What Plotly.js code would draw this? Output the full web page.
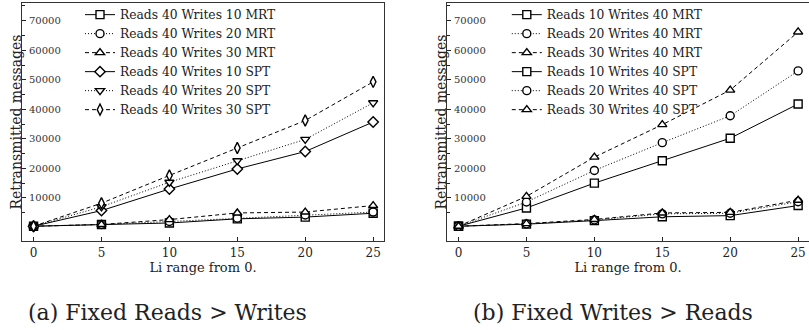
<!DOCTYPE html>
<html>
<head>
<meta charset="utf-8">
<script src="https://cdn.plot.ly/plotly-3.0.1.min.js"></script>
<style>html,body{margin:0;padding:0;background:#fff;}#chart{width:809px;height:330px;}</style>
</head>
<body>
<div id="chart"></div>
<script>
// Li range values (x axis)
const liRange = [0, 5, 10, 15, 20, 25];

// (a) Fixed Reads > Writes
const r40w10MRT = [400, 1000, 1500, 2900, 3500, 4800];
const r40w20MRT = [400, 1000, 2000, 3100, 4200, 5200];
const r40w30MRT = [400, 1000, 2650, 4900, 5200, 7400];
const r40w10SPT = [400, 5700, 13000, 19800, 25700, 35700];
const r40w20SPT = [400, 7000, 15300, 22600, 29800, 42200];
const r40w30SPT = [400, 8200, 17600, 26900, 36200, 49300];

// (b) Fixed Writes > Reads
const r10w40MRT = [400, 1100, 2300, 3600, 4000, 7400];
const r20w40MRT = [400, 1200, 2500, 4600, 4800, 8700];
const r30w40MRT = [400, 1300, 2700, 4900, 5100, 9200];
const r10w40SPT = [400, 6600, 15000, 22600, 30200, 41800];
const r20w40SPT = [400, 8600, 19300, 28700, 37800, 53000];
const r30w40SPT = [400, 10500, 23800, 34800, 46500, 66200];

const namesA = ["Reads 40 Writes 10 MRT","Reads 40 Writes 20 MRT","Reads 40 Writes 30 MRT",
                "Reads 40 Writes 10 SPT","Reads 40 Writes 20 SPT","Reads 40 Writes 30 SPT"];
const namesB = ["Reads 10 Writes 40 MRT","Reads 20 Writes 40 MRT","Reads 30 Writes 40 MRT",
                "Reads 10 Writes 40 SPT","Reads 20 Writes 40 SPT","Reads 30 Writes 40 SPT"];
const yTicks = [10000, 20000, 30000, 40000, 50000, 60000, 70000];
const yTickText = ["10000", "20000", "30000", "40000", "50000", "60000", "70000"];
const yMinor = [5000, 15000, 25000, 35000, 45000, 55000, 65000, 75000];
const xTicks = [0, 5, 10, 15, 20, 25];
const xTickText = ["0", "5", "10", "15", "20", "25"];

const dashes = ["solid","1px,2px","4px,3px","solid","1px,2px","4px,3px"];
const symA = ["square","circle","triangle-up","diamond","triangle-down","diamond-tall"];
const symB = ["square","circle","triangle-up","square","circle","triangle-up"];
const seriesA = [r40w10MRT, r40w20MRT, r40w30MRT, r40w10SPT, r40w20SPT, r40w30SPT];
const seriesB = [r10w40MRT, r20w40MRT, r30w40MRT, r10w40SPT, r20w40SPT, r30w40SPT];

const traces = [];
function mk(ys, name, dash, sym, xa, ya, leg) {
  return {
    x: liRange, y: ys, name: name, type: "scatter", mode: "lines+markers",
    xaxis: xa, yaxis: ya, legend: leg,
    line: {color: "#000", width: 1, dash: dash},
    marker: {symbol: sym, size: 8, color: "#fff", line: {color: "#000", width: 1.4}}
  };
}
for (let i = 0; i < 6; i++) traces.push(mk(seriesA[i], namesA[i], dashes[i], symA[i], "x", "y", "legend"));
for (let i = 0; i < 6; i++) traces.push(mk(seriesB[i], namesB[i], dashes[i], symB[i], "x2", "y2", "legend2"));

const serif = "DejaVu Serif, serif";
function xax(dom) {
  return {
    domain: dom, range: [-0.85, 25.8], tickmode: "array", tickvals: xTicks, ticktext: xTickText,
    ticks: "inside", ticklen: 4, tickcolor: "#222", showgrid: false, zeroline: false,
    showline: true, mirror: true, linecolor: "#333", linewidth: 1.2,
    tickfont: {family: serif, size: 12, color: "#222"},
    title: {text: "Li range from 0.", font: {family: serif, size: 13, color: "#222"}, standoff: 2}
  };
}
function yax(anchor, mirror) {
  return {
    anchor: anchor, domain: [0, 1], range: [-4600, 76000], tickmode: "array",
    tickvals: yTicks, ticktext: yTickText,
    ticks: "inside", ticklen: 4, tickcolor: "#222", ticklabelstandoff: -42,
    showgrid: false, zeroline: false, showline: true, mirror: mirror, linecolor: "#333", linewidth: 1.2,
    tickfont: {family: serif, size: 10, color: "#333"},
    minor: {tickmode: "array", tickvals: yMinor, ticks: "inside", ticklen: 3, tickcolor: "#222", showgrid: false},
    title: {text: "Retransmitted messages", font: {family: serif, size: 14, color: "#222"}, standoff: 4}
  };
}
const legStyle = {
  font: {family: serif, size: 12.3, color: "#222"}, bgcolor: "rgba(0,0,0,0)",
  borderwidth: 0, tracegroupgap: 0, xanchor: "left", yanchor: "top"
};
const layout = {
  width: 809, height: 330, paper_bgcolor: "#fff", plot_bgcolor: "#fff",
  margin: {l: 22, r: 0, t: 3, b: 88.5},
  showlegend: true,
  xaxis: xax([0, 0.46]),
  yaxis: yax("x", true),
  xaxis2: Object.assign(xax([0.54, 1]), {anchor: "y2"}),
  yaxis2: yax("x2", false),
  legend: Object.assign({x: 0.0737, y: 1.012}, legStyle),
  legend2: Object.assign({x: 0.616, y: 1.012}, legStyle),
  annotations: [
    {text: "(a) Fixed Reads > Writes", xref: "paper", yref: "paper", x: 0.1855, y: -0.30,
     xanchor: "center", yanchor: "middle", showarrow: false, font: {family: serif, size: 22, color: "#222"}},
    {text: "(b) Fixed Writes > Reads", xref: "paper", yref: "paper", x: 0.751, y: -0.30,
     xanchor: "center", yanchor: "middle", showarrow: false, font: {family: serif, size: 22, color: "#222"}}
  ]
};
Plotly.newPlot("chart", traces, layout, {displayModeBar: false, staticPlot: true});
</script>
</body>
</html>
